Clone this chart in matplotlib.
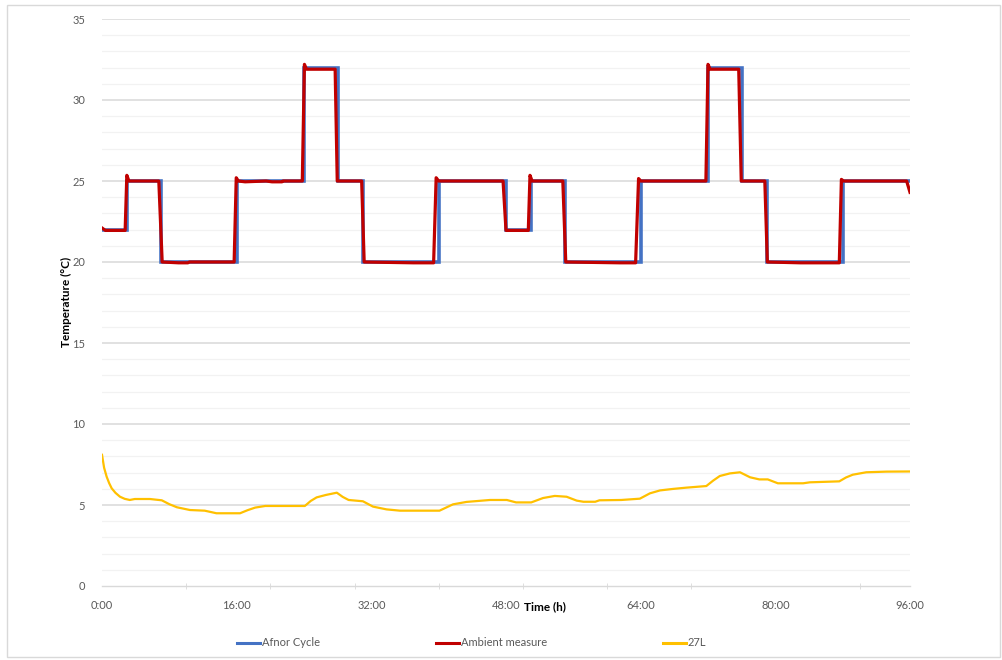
import matplotlib
matplotlib.use("Agg")
import matplotlib.pyplot as plt
from matplotlib.lines import Line2D
from matplotlib.patches import Rectangle
import numpy as np

plt.rcParams['font.family'] = ['Lato', 'DejaVu Sans']

# ---- data ----
afnor_edges = [0, 3, 7, 16, 24, 28, 31, 40, 48, 51, 55, 64, 72, 76, 79, 88, 96]
afnor_levels = [22, 25, 20, 25, 32, 25, 20, 25, 22, 25, 20, 25, 32, 25, 20, 25]

ambient_t = [0, 0.4, 2.75, 2.95, 3.2, 6.75, 7.15, 9.1, 10.2, 10.4, 15.7, 15.95, 16.2,
             17.0, 19.5, 20.2, 21.4, 21.5, 23.8, 24.05, 24.3, 27.7, 27.95, 30.85, 31.15,
             37.0, 39.4, 39.7, 40.0, 47.65, 48.0, 50.65, 50.85, 51.1, 54.75, 55.1,
             61.5, 63.4, 63.75, 64.0, 71.75, 72.0, 72.25, 75.65, 75.95, 78.75, 79.05,
             83.0, 87.6, 87.85, 88.1, 95.6, 96.0]
ambient_v = [22.1, 21.95, 21.95, 25.35, 25.0, 25.0, 20.0, 19.95, 19.95, 20.0, 20.0, 25.2, 25.0,
             24.95, 25.0, 24.95, 24.95, 25.0, 25.0, 32.2, 31.9, 31.9, 25.0, 25.0, 20.0,
             19.95, 19.95, 25.2, 25.0, 25.0, 21.95, 21.95, 25.35, 25.0, 25.0, 20.0,
             19.95, 19.95, 25.15, 25.0, 25.0, 32.2, 31.9, 31.9, 25.0, 25.0, 20.0,
             19.95, 19.95, 25.1, 25.0, 25.0, 24.3]

l27_t = [0, 0.25, 0.55, 0.85, 1.15, 1.6, 2.14, 2.7, 3.3, 3.9, 5.7, 7.1, 8.0, 8.9, 10.45,
         12.2, 13.6, 16.4, 17.3, 18.2, 19.4, 24.1, 24.8, 25.5, 26.6, 27.9, 28.6, 29.3, 31.0,
         32.2, 33.8, 35.4, 40.1, 41.7, 43.3, 46.1, 48.1, 49.2, 51.0, 52.4, 53.8, 55.2,
         56.4, 57.2, 58.6, 59.1, 61.7, 63.9, 65.1, 66.3, 67.8, 69.4, 71.8, 72.6, 73.4,
         74.6, 75.8, 77.0, 78.1, 79.1, 80.3, 83.3, 84.1, 87.6, 88.4, 89.2, 90.8, 93.2, 96.0]
l27_v = [8.1, 7.3, 6.75, 6.35, 6.03, 5.75, 5.51, 5.38, 5.31, 5.37, 5.37, 5.29, 5.05, 4.86,
         4.69, 4.65, 4.49, 4.49, 4.68, 4.84, 4.94, 4.94, 5.25, 5.47, 5.62, 5.76, 5.5, 5.31,
         5.23, 4.9, 4.73, 4.65, 4.65, 5.04, 5.19, 5.31, 5.31, 5.16, 5.16, 5.43, 5.56, 5.51,
         5.27, 5.2, 5.2, 5.29, 5.31, 5.39, 5.72, 5.9, 5.99, 6.07, 6.17, 6.5, 6.79,
         6.95, 7.02, 6.71, 6.58, 6.58, 6.34, 6.34, 6.4, 6.46, 6.7, 6.87, 7.02, 7.06, 7.07]

x_ticks = [0, 16, 32, 48, 64, 80, 96]
x_labels = ["0:00", "16:00", "32:00", "48:00", "64:00", "80:00", "96:00"]
y_ticks = [0, 5, 10, 15, 20, 25, 30, 35]

series_names = ["Afnor Cycle", "Ambient measure", "27L"]
series_colors = ["#4472C4", "#C00000", "#FFC000"]

# ---- figure ----
W, H = 1003, 660
fig = plt.figure(figsize=(W / 100, H / 100), dpi=100)
fig.patches.append(Rectangle((7 / W, 1 - 657 / H), (1000 - 7) / W, (657 - 5) / H,
                             transform=fig.transFigure, fill=False,
                             edgecolor="#D9D9D9", lw=1.0))

ax = fig.add_axes([102 / W, 74 / H, 808 / W, 567 / H])
ax.set_xlim(0, 96)
ax.set_ylim(0, 35)

for y in range(0, 36):
    if y % 5 == 0:
        if y > 0:
            ax.axhline(y, color="#D9D9D9", lw=1.1, zorder=0)
    else:
        ax.axhline(y, color="#F2F2F2", lw=0.9, zorder=0)

ax.stairs(afnor_levels, afnor_edges, baseline=None, color=series_colors[0], lw=2.6, zorder=3)
ax.plot(ambient_t, ambient_v, color=series_colors[1], lw=2.3, zorder=4)
ax.plot(l27_t, l27_v, color=series_colors[2], lw=1.6, zorder=4)

for s in ["top", "right", "left"]:
    ax.spines[s].set_visible(False)
ax.spines["bottom"].set_color("#D9D9D9")
ax.spines["bottom"].set_linewidth(1.0)

ax.set_xticks(x_ticks)
ax.set_xticklabels(x_labels)
ax.set_xticks(np.arange(0, 96, 10), minor=True)
ax.tick_params(axis="x", which="major", length=0, pad=10, labelsize=8, labelcolor="#595959")
ax.tick_params(axis="x", which="minor", length=4, color="#D9D9D9", direction="inout")
ax.set_yticks(y_ticks)
ax.tick_params(axis="y", length=0, pad=12, labelsize=8, labelcolor="#595959")

fig.text(545 / W, 1 - 607 / H, "Time (h)", ha="center", va="center",
         fontsize=8.5, fontweight="bold", color="black")
fig.text(66 / W, 1 - 302 / H, "Temperature (°C)", ha="center", va="center",
         rotation=90, fontsize=8.5, fontweight="bold", color="black")

# legend
leg_y = 1 - 643 / H
leg_pos = [(237, 260), (436, 459), (663, 686)]
for (x0, x1), name, col in zip(leg_pos, series_names, series_colors):
    fig.add_artist(Line2D([x0 / W, x1 / W], [leg_y, leg_y], transform=fig.transFigure,
                          color=col, lw=2.2))
    fig.text((x1 + 2) / W, leg_y, name, ha="left", va="center", fontsize=8, color="#595959")

fig.savefig("out.png", dpi=100)
